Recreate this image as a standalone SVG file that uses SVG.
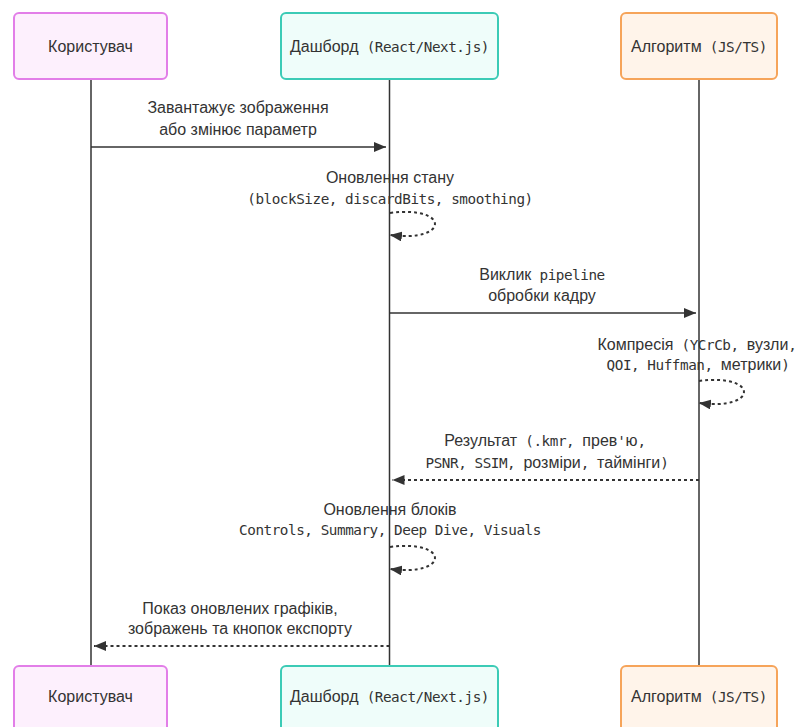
<svg xmlns="http://www.w3.org/2000/svg" width="797" height="727" viewBox="0 0 797 727">
<defs>
<style>
.s{font-family:"Liberation Sans",Arial,sans-serif;font-size:16px;fill:#333;text-anchor:middle}
.m{font-family:"DejaVu Sans Mono","Liberation Mono",monospace;font-size:14.3px;letter-spacing:-0.45px}
.box{stroke-width:2}
.u{fill:#fdf0fd;stroke:#e27ee8}
.d{fill:#effdfa;stroke:#3ccbb6}
.a{fill:#fff4ea;stroke:#f6a45a}
.life{stroke:#333;stroke-width:1.5;fill:none}
.msg{stroke:#333;stroke-width:1.5;fill:none}
.dot{stroke:#333;stroke-width:2;fill:none;stroke-dasharray:3 3}
</style>
<marker id="ah" viewBox="0 0 12 10" refX="12" refY="5" markerWidth="12" markerHeight="10" markerUnits="userSpaceOnUse" orient="auto">
<path d="M0,0 L12,5 L0,10 z" fill="#333"/>
</marker>
</defs>
<rect width="797" height="727" fill="#fff"/>
<g id="lifelines">
<line class="life" x1="91" y1="79" x2="91" y2="666"/>
<line class="life" x1="389.5" y1="79" x2="389.5" y2="666"/>
<line class="life" x1="699" y1="79" x2="699" y2="666"/>
</g>
<g id="user-top"><rect class="box u" x="14" y="13" width="153" height="66" rx="5"/><text class="s" x="90.5" y="51.5">Користувач</text></g>
<g id="dashboard-top"><rect class="box d" x="281" y="13" width="217" height="66" rx="5"/><text class="s" x="389.5" y="51.5">Дашборд<tspan class="m"> (React/Next.js)</tspan></text></g>
<g id="algo-top"><rect class="box a" x="621" y="13" width="156" height="66" rx="5"/><text class="s" x="699" y="51.5">Алгоритм<tspan class="m"> (JS/TS)</tspan></text></g>
<g id="user-bottom"><rect class="box u" x="14" y="666" width="153" height="66" rx="5"/><text class="s" x="90.5" y="702">Користувач</text></g>
<g id="dashboard-bottom"><rect class="box d" x="281" y="666" width="217" height="66" rx="5"/><text class="s" x="389.5" y="702">Дашборд<tspan class="m"> (React/Next.js)</tspan></text></g>
<g id="algo-bottom"><rect class="box a" x="621" y="666" width="156" height="66" rx="5"/><text class="s" x="699" y="702">Алгоритм<tspan class="m"> (JS/TS)</tspan></text></g>
<g id="connectors">
<text class="s" x="238" y="113">Завантажує зображення</text>
<text class="s" x="238" y="135">або змінює параметр</text>
<line class="msg" x1="91" y1="147" x2="386" y2="147" marker-end="url(#ah)"/>

<text class="s" x="390" y="183">Оновлення стану</text>
<text class="s" x="390" y="204"><tspan class="m">(blockSize, discardBits, smoothing)</tspan></text>
<path class="dot" d="M390,213 C450,205 450,243 390,235" marker-end="url(#ah)"/>

<text class="s" x="542" y="280">Виклик<tspan class="m"> pipeline</tspan></text>
<text class="s" x="542" y="301">обробки кадру</text>
<line class="msg" x1="389.5" y1="313" x2="696" y2="313" marker-end="url(#ah)"/>

<text class="s" x="697" y="350">Компресія<tspan class="m"> (YCrCb, </tspan>вузли<tspan class="m">,</tspan></text>
<text class="s" x="698" y="370"><tspan class="m">QOI, Huffman, </tspan>метрики<tspan class="m">)</tspan></text>
<path class="dot" d="M699,381 C759,373 759,411 699,403" marker-end="url(#ah)"/>

<text class="s" x="545" y="446">Результат<tspan class="m"> (.kmr, </tspan>прев<tspan class="m">'</tspan>ю<tspan class="m">,</tspan></text>
<text class="s" x="547" y="468"><tspan class="m">PSNR, SSIM, </tspan>розміри<tspan class="m">, </tspan>таймінги<tspan class="m">)</tspan></text>
<line class="dot" x1="699" y1="480" x2="392.5" y2="480" marker-end="url(#ah)"/>

<text class="s" x="390" y="515">Оновлення блоків</text>
<text class="s" x="390" y="535"><tspan class="m">Controls, Summary, Deep Dive, Visuals</tspan></text>
<path class="dot" d="M390,547 C450,539 450,577 390,569" marker-end="url(#ah)"/>

<text class="s" x="240" y="614">Показ оновлених графіків,</text>
<text class="s" x="240" y="634">зображень та кнопок експорту</text>
<line class="dot" x1="389.5" y1="646" x2="94" y2="646" marker-end="url(#ah)"/>
</g>
</svg>
